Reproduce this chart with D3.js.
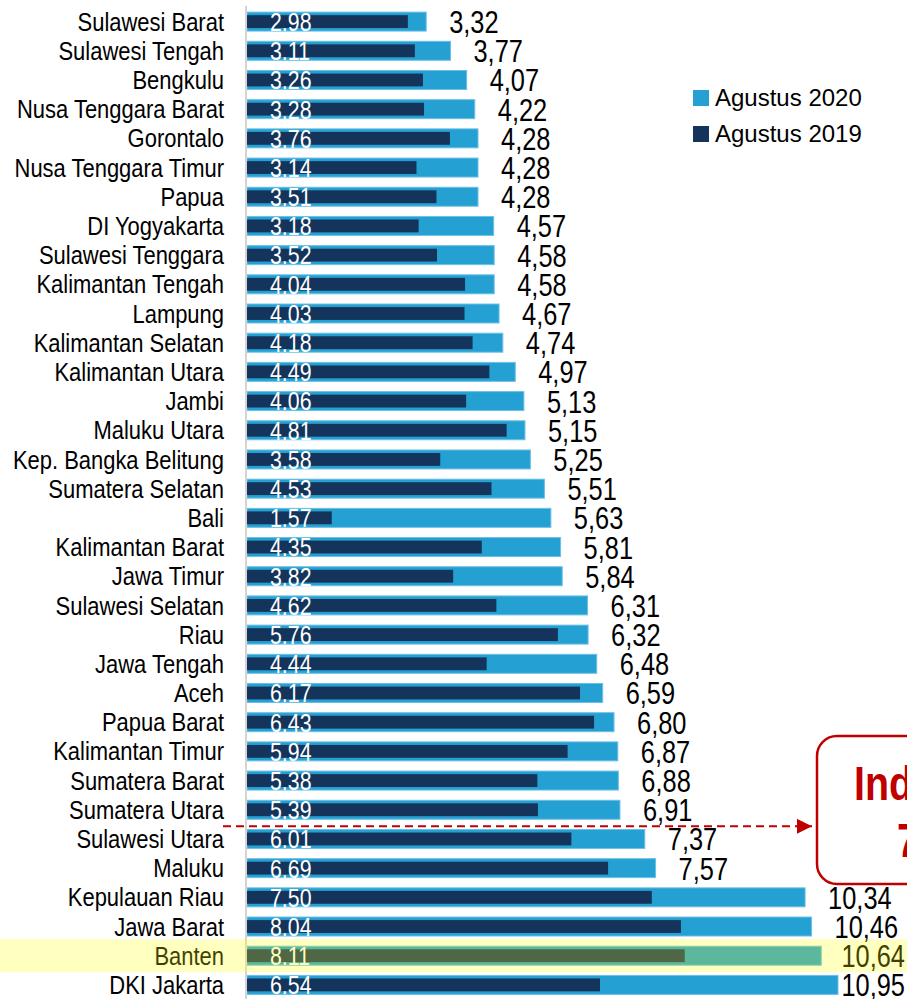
<!DOCTYPE html>
<html>
<head>
<meta charset="utf-8">
<script src="https://cdn.jsdelivr.net/npm/d3@7"></script>
<style>
  html, body { margin: 0; padding: 0; background: #fff; }
  svg { display: block; }
</style>
</head>
<body>
<div id="chart"></div>
<script>
const provinces = [
  'Sulawesi Barat', 'Sulawesi Tengah', 'Bengkulu', 'Nusa Tenggara Barat', 'Gorontalo',
  'Nusa Tenggara Timur', 'Papua', 'DI Yogyakarta', 'Sulawesi Tenggara', 'Kalimantan Tengah',
  'Lampung', 'Kalimantan Selatan', 'Kalimantan Utara', 'Jambi', 'Maluku Utara',
  'Kep. Bangka Belitung', 'Sumatera Selatan', 'Bali', 'Kalimantan Barat', 'Jawa Timur',
  'Sulawesi Selatan', 'Riau', 'Jawa Tengah', 'Aceh', 'Papua Barat',
  'Kalimantan Timur', 'Sumatera Barat', 'Sumatera Utara', 'Sulawesi Utara', 'Maluku',
  'Kepulauan Riau', 'Jawa Barat', 'Banten', 'DKI Jakarta'
];
const aug2020 = [
  3.32, 3.77, 4.07, 4.22, 4.28, 4.28, 4.28, 4.57, 4.58, 4.58,
  4.67, 4.74, 4.97, 5.13, 5.15, 5.25, 5.51, 5.63, 5.81, 5.84,
  6.31, 6.32, 6.48, 6.59, 6.80, 6.87, 6.88, 6.91, 7.37, 7.57,
  10.34, 10.46, 10.64, 10.95
];
const aug2019 = [
  2.98, 3.11, 3.26, 3.28, 3.76, 3.14, 3.51, 3.18, 3.52, 4.04,
  4.03, 4.18, 4.49, 4.06, 4.81, 3.58, 4.53, 1.57, 4.35, 3.82,
  4.62, 5.76, 4.44, 6.17, 6.43, 5.94, 5.38, 5.39, 6.01, 6.69,
  7.50, 8.04, 8.11, 6.54
];
const seriesNames = ['Agustus 2020', 'Agustus 2019'];
const highlighted = 'Banten';
const nationalLabel = ['Indonesia', '7,07'];
const nationalAfter = 'Sumatera Utara';

const width = 907;
const height = 999;
const font = "'Liberation Sans', Arial, sans-serif";
// no narrow face installed, so squeeze the regular one
const squeeze = 0.82;
const labelSqueeze = 0.845;
const lightBlue = '#24a0d2';
const darkBlue = '#14345b';
const red = '#c00000';

const data = provinces.map((p, i) => ({ name: p, v20: aug2020[i], v19: aug2019[i] }));

const svg = d3.select('#chart')
  .append('svg')
  .attr('width', width)
  .attr('height', height)
  .attr('viewBox', `0 0 ${width} ${height}`);

const y = d3.scaleBand()
  .domain(provinces)
  .range([7, 999.5])
  .paddingInner(0.35)
  .paddingOuter(0.175);

const x = d3.scaleLinear()
  .domain([0, 10.95])
  .range([247, 838]);

const step = y.step();
const innerH = step * 0.44;
const mid = (d) => y(d.name) + y.bandwidth() / 2;

// bars 2020
svg.append('g')
  .selectAll('rect')
  .data(data)
  .join('rect')
  .attr('x', x(0))
  .attr('y', (d) => y(d.name))
  .attr('width', (d) => x(d.v20) - x(0))
  .attr('height', y.bandwidth())
  .attr('fill', lightBlue)
  .attr('stroke', '#6cc0e6')
  .attr('stroke-width', 1);

// bars 2019
svg.append('g')
  .selectAll('rect')
  .data(data)
  .join('rect')
  .attr('x', x(0))
  .attr('y', (d) => mid(d) - innerH / 2)
  .attr('width', (d) => x(d.v19) - x(0))
  .attr('height', innerH)
  .attr('fill', darkBlue);

// axis line
svg.append('line')
  .attr('x1', 246).attr('x2', 246)
  .attr('y1', 6).attr('y2', height)
  .attr('stroke', '#d4d4d4')
  .attr('stroke-width', 2);

// category labels
svg.append('g')
  .selectAll('text')
  .data(data)
  .join('text')
  .attr('transform', (d) => `translate(224, ${mid(d)}) scale(${labelSqueeze}, 1)`)
  .attr('dy', '0.35em')
  .attr('text-anchor', 'end')
  .attr('font-family', font)
  .attr('font-size', 26)
  .attr('fill', '#000')
  .text((d) => d.name);

// inner 2019 labels
svg.append('g')
  .selectAll('text')
  .data(data)
  .join('text')
  .attr('transform', (d) => `translate(270, ${mid(d)}) scale(${squeeze}, 1)`)
  .attr('dy', '0.36em')
  .attr('font-family', font)
  .attr('font-size', 26)
  .attr('fill', '#fff')
  .text((d) => d.v19.toFixed(2));

// outer 2020 labels, pushed left where they would run off the page
const fmt = (v) => v.toFixed(2).replace('.', ',');
svg.append('g')
  .selectAll('text')
  .data(data)
  .join('text')
  .attr('dy', '0.37em')
  .attr('font-family', font)
  .attr('font-size', 31)
  .attr('fill', '#000')
  .text((d) => fmt(d.v20))
  .attr('transform', function (d) {
    const w = this.getComputedTextLength() * squeeze;
    const tx = Math.min(x(d.v20) + 23, width - 2 - w);
    return `translate(${tx}, ${mid(d)}) scale(${squeeze}, 1)`;
  });

// highlight band (yellow wash over the row)
const hy = y(highlighted) + y.bandwidth() / 2;
svg.append('rect')
  .attr('x', 0)
  .attr('y', hy - 16.5)
  .attr('width', width)
  .attr('height', 33)
  .attr('fill', '#ffff00')
  .attr('opacity', 0.25);

// national average marker
const defs = svg.append('defs');
defs.append('marker')
  .attr('id', 'arrow')
  .attr('viewBox', '0 0 10 10')
  .attr('refX', 10)
  .attr('refY', 5)
  .attr('markerWidth', 7.5)
  .attr('markerHeight', 7.5)
  .attr('markerUnits', 'strokeWidth')
  .attr('orient', 'auto')
  .append('path')
  .attr('d', 'M0,0L10,5L0,10Z')
  .attr('fill', red);

const ly = y(nationalAfter) + y.bandwidth() + (step - y.bandwidth()) / 2 + 2;
svg.append('line')
  .attr('x1', 223)
  .attr('x2', 812)
  .attr('y1', ly)
  .attr('y2', ly)
  .attr('stroke', red)
  .attr('stroke-width', 2)
  .attr('stroke-dasharray', '8,5')
  .attr('marker-end', 'url(#arrow)');

svg.append('rect')
  .attr('x', 817)
  .attr('y', 736)
  .attr('width', 260)
  .attr('height', 148)
  .attr('rx', 20)
  .attr('fill', '#fff')
  .attr('stroke', red)
  .attr('stroke-width', 2.5);

svg.append('text')
  .attr('transform', `translate(854, 800) scale(${squeeze}, 1)`)
  .attr('font-family', font)
  .attr('font-weight', 'bold')
  .attr('font-size', 48)
  .attr('fill', red)
  .text(nationalLabel[0]);

svg.append('text')
  .attr('transform', `translate(897, 857) scale(${squeeze}, 1)`)
  .attr('font-family', font)
  .attr('font-weight', 'bold')
  .attr('font-size', 48)
  .attr('fill', red)
  .text(nationalLabel[1]);

// legend
const legend = svg.append('g').attr('transform', 'translate(693, 90)');
const legendColors = [lightBlue, darkBlue];
seriesNames.forEach((name, i) => {
  const g = legend.append('g').attr('transform', `translate(0, ${i * 36})`);
  g.append('rect')
    .attr('width', 16)
    .attr('height', 16)
    .attr('fill', legendColors[i]);
  g.append('text')
    .attr('x', 22)
    .attr('y', 16)
    .attr('font-family', font)
    .attr('font-size', 24)
    .attr('fill', '#000')
    .text(name);
});
</script>
</body>
</html>
